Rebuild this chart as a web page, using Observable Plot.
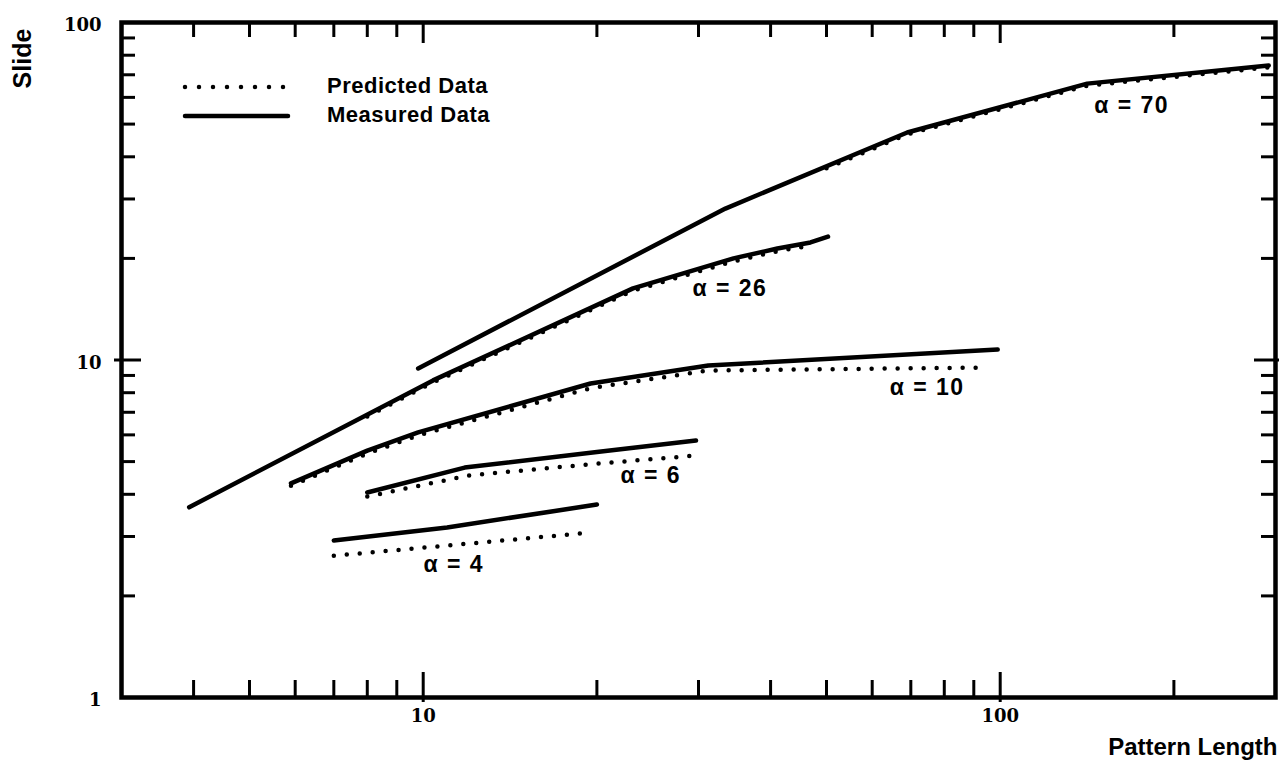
<!DOCTYPE html>
<html>
<head>
<meta charset="utf-8">
<script src="https://cdn.jsdelivr.net/npm/d3@7"></script>
<script src="https://cdn.jsdelivr.net/npm/@observablehq/plot@0.6"></script>
<style>
  html, body { margin: 0; padding: 0; background: #fff; overflow: hidden; }
  #wrap { position: relative; width: 1280px; height: 767px; }
  #legend { position: absolute; left: 0; top: 0; pointer-events: none; }
</style>
</head>
<body>
<div id="wrap"></div>
<script>
// ---- data ----
const seriesNames = ["α = 70", "α = 26", "α = 10", "α = 6", "α = 4"];

// [pattern length, slide]
const measured70 = [[9.8, 9.44], [33.4, 28.1], [69, 47.2], [141.5, 65.9], [292, 74.6]];
const predicted70 = [[50, 37.0], [69, 46.6], [141.5, 65.0], [292, 73.6]];

const measured26 = [[3.93, 3.66], [10.4, 8.7], [23.1, 16.3], [34.5, 20.0], [41.1, 21.4], [46.9, 22.3], [50.3, 23.2]];
const predicted26 = [[8, 6.8], [10.4, 8.58], [23.1, 16.05], [34.5, 19.6], [41.1, 21.0], [46, 21.7]];

const measured10 = [[5.9, 4.31], [8, 5.39], [9.8, 6.1], [19.5, 8.52], [31.2, 9.63], [99, 10.74]];
const predicted10 = [[5.9, 4.24], [8, 5.28], [9.8, 5.98], [19.5, 8.25], [31.2, 9.31], [95, 9.5]];

const measured6 = [[8, 4.05], [11.8, 4.8], [20, 5.34], [29.7, 5.77]];
const predicted6 = [[8, 3.94], [12, 4.55], [20, 4.93], [29.7, 5.21]];

const measured4 = [[7, 2.92], [11, 3.19], [20, 3.73]];
const predicted4 = [[7, 2.63], [19.5, 3.08]];

// series label annotations: [text, x, y]
const seriesLabels = [["α = 70", 169, 56.8], ["α = 26", 34, 16.3], ["α = 10", 74.7, 8.29], ["α = 6", 24.8, 4.55], ["α = 4", 11.3, 2.47]];

// ticks
const xMinorTicks = [4, 5, 6, 7, 8, 9, 20, 30, 40, 50, 60, 70, 80, 90, 200];
const xMajorTicks = [10, 100];
const yMinorTicks = [2, 3, 4, 5, 6, 7, 8, 9, 20, 30, 40, 50, 60, 70, 80, 90];
const yMajorTicks = [10];
const xTickLabels = [10, 100];
const yTickLabels = [1, 10, 100];

const xLabel = "Pattern Length";
const yLabel = "Slide";
const legendItems = ["Predicted Data", "Measured Data"];

// ---- build table ----
const measuredSets = [measured70, measured26, measured10, measured6, measured4];
const predictedSets = [predicted70, predicted26, predicted10, predicted6, predicted4];
const rows = [];
seriesNames.forEach((s, i) => {
  measuredSets[i].forEach(([x, y]) => rows.push({series: s, kind: "Measured", x, y}));
  predictedSets[i].forEach(([x, y]) => rows.push({series: s, kind: "Predicted", x, y}));
});
const labelRows = seriesLabels.map(([label, x, y]) => ({label, x, y}));

const W = 1280, H = 767;
const mL = 121, mR = 5, mT = 22, mB = 70;
const innerW = W - mL - mR, innerH = H - mT - mB;
const sans = "'Liberation Sans', Arial, Helvetica, sans-serif";
const serif = "'DejaVu Serif', 'Liberation Serif', serif";

const chart = Plot.plot({
  width: W,
  height: H,
  marginLeft: mL, marginRight: mR, marginTop: mT, marginBottom: mB,
  x: {type: "log", domain: [3, 300], axis: null},
  y: {type: "log", domain: [1, 100], axis: null},
  style: {background: "#fff", color: "#000"},
  marks: [
    Plot.line(rows.filter(d => d.kind === "Predicted"), {
      x: "x", y: "y", z: "series", stroke: "#000", strokeWidth: 4.5,
      strokeDasharray: "0 13", strokeLinecap: "round"
    }),
    Plot.line(rows.filter(d => d.kind === "Measured"), {
      x: "x", y: "y", z: "series", stroke: "#000", strokeWidth: 4.5,
      strokeLinecap: "round", strokeLinejoin: "round"
    }),
    // inward ticks, bottom
    Plot.ruleX(xMinorTicks, {x: d => d, insetTop: innerH - 17, stroke: "#000", strokeWidth: 3}),
    Plot.ruleX(xMajorTicks, {x: d => d, insetTop: innerH - 25, insetBottom: -5, stroke: "#000", strokeWidth: 3}),
    // top
    Plot.ruleX(xMinorTicks, {x: d => d, insetBottom: innerH - 15, stroke: "#000", strokeWidth: 3}),
    Plot.ruleX(xMajorTicks, {x: d => d, insetBottom: innerH - 21, stroke: "#000", strokeWidth: 3}),
    // left
    Plot.ruleY(yMinorTicks, {y: d => d, insetRight: innerW - 14, stroke: "#000", strokeWidth: 3}),
    Plot.ruleY(yMajorTicks, {y: d => d, insetRight: innerW - 20, insetLeft: -7, stroke: "#000", strokeWidth: 3}),
    // right
    Plot.ruleY(yMinorTicks, {y: d => d, insetLeft: innerW - 14, stroke: "#000", strokeWidth: 3}),
    Plot.ruleY(yMajorTicks, {y: d => d, insetLeft: innerW - 21, insetRight: -4, stroke: "#000", strokeWidth: 3}),
    Plot.frame({stroke: "#000", strokeWidth: 4.5}),
    // series labels
    Plot.text(labelRows, {
      x: "x", y: "y", text: "label", fontSize: 23, fontWeight: "bold",
      fontFamily: sans, fill: "#000"
    }),
    // tick labels
    Plot.text(xTickLabels, {
      x: d => d, frameAnchor: "bottom", dy: 19, lineAnchor: "middle", text: d => String(d),
      fontFamily: serif, fontSize: 18, fontWeight: "bold", fill: "#000"
    }),
    Plot.text(yTickLabels, {
      y: d => d, frameAnchor: "left", dx: -20, dy: 3, textAnchor: "end", lineAnchor: "middle",
      text: d => String(d),
      fontFamily: serif, fontSize: 18, fontWeight: "bold", fill: "#000"
    }),
    // axis titles
    Plot.text([yLabel], {
      frameAnchor: "top-left", dx: -99, dy: 36, rotate: -90, textAnchor: "middle", lineAnchor: "middle",
      text: d => d, fontFamily: sans, fontSize: 25, fontWeight: "bold", fill: "#000"
    }),
    Plot.text([xLabel], {
      frameAnchor: "bottom-right", dx: 2, dy: 50, textAnchor: "end", lineAnchor: "middle",
      text: d => d, fontFamily: sans, fontSize: 24, fontWeight: "bold", fill: "#000"
    })
  ]
});

// widen the series labels a little, as in the original lettering
d3.select(chart).selectAll("text")
  .filter(function() { return this.textContent.startsWith("α"); })
  .attr("letter-spacing", 1.5);

const wrap = document.getElementById("wrap");
wrap.appendChild(chart);

// ---- legend (overlay) ----
const lg = d3.select(wrap).append("svg")
  .attr("id", "legend")
  .attr("width", 560).attr("height", 160);
const legendRows = [
  {text: legendItems[0], dash: "0 14", y: 87},
  {text: legendItems[1], dash: null, y: 116}
];
legendRows.forEach(r => {
  lg.append("line")
    .attr("x1", 185).attr("x2", r.dash ? 284 : 288)
    .attr("y1", r.y).attr("y2", r.y)
    .attr("stroke", "#000").attr("stroke-width", 4.5)
    .attr("stroke-linecap", "round")
    .attr("stroke-dasharray", r.dash);
  lg.append("text")
    .attr("x", 327).attr("y", r.y)
    .attr("dominant-baseline", "middle")
    .attr("font-family", sans).attr("font-weight", "bold").attr("font-size", 22)
    .attr("letter-spacing", 0.5)
    .attr("fill", "#000")
    .text(r.text);
});
</script>
</body>
</html>
